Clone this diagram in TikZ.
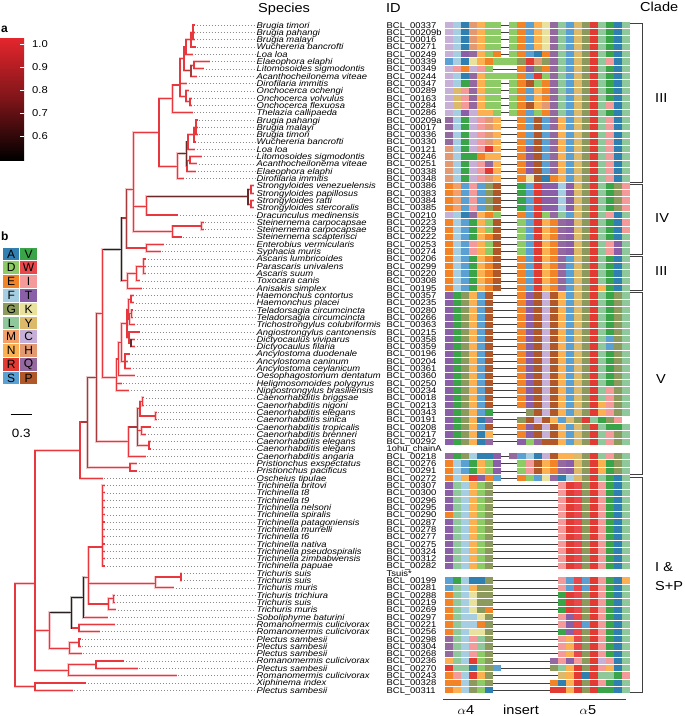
\documentclass[tikz,border=0pt]{standalone}
\usepackage{fontspec}
\setmainfont{Liberation Sans}
\usepackage{graphicx}
\definecolor{alA}{HTML}{2F7FB1}\definecolor{alV}{HTML}{3AA548}
\definecolor{alD}{HTML}{8DCB66}\definecolor{alW}{HTML}{E8474B}
\definecolor{alE}{HTML}{F28327}\definecolor{alI}{HTML}{F59A9A}
\definecolor{alF}{HTML}{A6CEE3}\definecolor{alT}{HTML}{8B5EA8}
\definecolor{alG}{HTML}{8C9A5E}\definecolor{alK}{HTML}{E8E29E}
\definecolor{alL}{HTML}{8FC89A}\definecolor{alY}{HTML}{DDBA6B}
\definecolor{alM}{HTML}{F4A06A}\definecolor{alC}{HTML}{C6B0D8}
\definecolor{alN}{HTML}{FBB052}\definecolor{alH}{HTML}{E39A72}
\definecolor{alR}{HTML}{E13B33}\definecolor{alQ}{HTML}{94699F}
\definecolor{alS}{HTML}{5BA0D3}\definecolor{alP}{HTML}{B0582A}
\definecolor{tr}{HTML}{E8383D}\definecolor{trb}{HTML}{A83A3C}
\definecolor{trd}{HTML}{6B2A2A}\definecolor{trk}{HTML}{2A1E1E}
\definecolor{cbred}{HTML}{E3262D}
\newcommand\sx[1]{\scalebox{1.12}[1]{#1}}
\newcommand\RY[1]{(25+(#1-1)*7.31)}
\newcount\alk
\newcommand\alrow[2]{\def\alr{#1}\alk=0 \alparse#2\relax}
\def\alparse#1{\ifx\relax#1\let\alnext\relax\else\alcell{#1}\advance\alk by 1 \let\alnext\alparse\fi\alnext}
\newcommand\alcell[1]{%
  \pgfmathsetmacro\alx{445+\the\alk*8.05}%
  \pgfmathsetmacro\aly{25+(\alr-1)*7.31}%
  \if#1-\draw[gapline] (\alx,\aly) -- ++(8.05,0);\else
  \if#1.\else\fill[al#1] (\alx,\aly-3.15) rectangle ++(8.05,6.3);\fi\fi}
\def\leafdata{1/193/195/Brugia timori/BCL\_00337,
2/193/195/Brugia pahangi/BCL\_00209b,
3/193/195/Brugia malayi/BCL\_00016,
4/191/195.5/Wuchereria bancrofti/BCL\_00271,
5/186/193/Loa loa/BCL\_00249,
6/194/210/Elaeophora elaphi/BCL\_00339,
7/194/204/Litomosoides sigmodontis/BCL\_00349,
8/191/197/Acanthocheilonema viteae/BCL\_00244,
9/180/187/Dirofilaria immitis/BCL\_00347,
10/186/188.5/Onchocerca ochengi/BCL\_00289,
11/190/192/Onchocerca volvulus/BCL\_00163,
12/190/192/Onchocerca flexuosa/BCL\_00284,
13/172.3/192.7/Thelazia callipaeda/BCL\_00286,
14/196/197.5/Brugia pahangi/BCL\_00209a,
15/196/197.5/Brugia malayi/BCL\_00017,
16/196/197.5/Brugia timori/BCL\_00336,
17/194/196/Wuchereria bancrofti/BCL\_00330,
18/188/195/Loa loa/BCL\_00121,
19/190/202/Litomosoides sigmodontis/BCL\_00246,
20/190/197/Acanthocheilonema viteae/BCL\_00251,
21/187/196/Elaeophora elaphi/BCL\_00338,
22/177.7/184.3/Dirofilaria immitis/BCL\_00348,
23/251/253.5/Strongyloides venezuelensis/BCL\_00386,
24/251/253.5/Strongyloides papillosus/BCL\_00383,
25/251/253.5/Strongyloides ratti/BCL\_00384,
26/251/253.5/Strongyloides stercoralis/BCL\_00385,
27/146.7/178.3/Dracunculus medinensis/BCL\_00210,
28/201.7/203.5/Steinernema carpocapsae/BCL\_00223,
29/201.7/203.5/Steinernema carpocapsae/BCL\_00229,
30/172.3/181.7/Steinernema scapterisci/BCL\_00222,
31/146.7/164/Enterobius vermicularis/BCL\_00253,
32/146.7/160.7/Syphacia muris/BCL\_00274,
33/143.3/146/Ascaris lumbricoides/BCL\_00206,
34/143.3/146/Parascaris univalens/BCL\_00299,
35/143.3/146/Ascaris suum/BCL\_00220,
36/136.7/140/Toxocara canis/BCL\_00308,
37/127.3/141.7/Anisakis simplex/BCL\_00195,
38/131/134/Haemonchus contortus/BCL\_00357,
39/131/134/Haemonchus placei/BCL\_00235,
40/131.5/133/Teladorsagia circumcincta/BCL\_00280,
41/131.5/133/Teladorsagia circumcincta/BCL\_00266,
42/129.5/135/Trichostrongylus colubriformis/BCL\_00363,
43/129/140/Angiostrongylus cantonensis/BCL\_00215,
44/131/135/Dictyocaulus viviparus/BCL\_00358,
45/131/135/Dictyocaulus filaria/BCL\_00359,
46/125/130/Ancylostoma duodenale/BCL\_00196,
47/125/128/Ancylostoma caninum/BCL\_00204,
48/125/131/Ancylostoma ceylanicum/BCL\_00361,
49/118.3/135/Oesophagostomum dentatum/BCL\_00360,
50/116.7/121.7/Heligmosomoides polygyrus/BCL\_00250,
51/116.7/129.3/Nippostrongylus brasiliensis/BCL\_00234,
52/142.3/144/Caenorhabditis briggsae/BCL\_00018,
53/142.3/144/Caenorhabditis nigoni/BCL\_00213,
54/155.7/156.5/Caenorhabditis elegans/BCL\_00343,
55/155.7/156.5/Caenorhabditis sinica/BCL\_00191,
56/141.7/151/Caenorhabditis tropicalis/BCL\_00208,
57/141.7/146/Caenorhabditis brenneri/BCL\_00217,
58/149/151/Caenorhabditis elegans/BCL\_00292,
59/149/151/Caenorhabditis elegans/1ohu\_chainA,
60/128.3/145.7/Caenorhabditis angaria/BCL\_00218,
61/130/137/Pristionchus exspectatus/BCL\_00276,
62/130/137/Pristionchus pacificus/BCL\_00291,
63/80/102.7/Oscheius tipulae/BCL\_00272,
64/102.7/105/Trichinella britovi/BCL\_00307,
65/102.7/105/Trichinella t8/BCL\_00300,
66/102.7/105/Trichinella t9/BCL\_00296,
67/102.7/105/Trichinella nelsoni/BCL\_00295,
68/102.7/105/Trichinella spiralis/BCL\_00290,
69/102.7/105/Trichinella patagoniensis/BCL\_00287,
70/102.7/105/Trichinella murrelli/BCL\_00278,
71/102.7/105/Trichinella t6/BCL\_00277,
72/102.7/105/Trichinella nativa/BCL\_00275,
73/102.7/105/Trichinella pseudospiralis/BCL\_00324,
74/102.7/105/Trichinella zimbabwensis/BCL\_00312,
75/102.7/105/Trichinella papuae/BCL\_00282,
76/181/182/Trichuris suis/Tsuis*,
77/181/182/Trichuris suis/BCL\_00199,
78/155.7/174/Trichuris muris/BCL\_00281,
79/113.3/115/Trichuris trichiura/BCL\_00288,
80/113.3/115/Trichuris suis/BCL\_00219,
81/108.3/116/Trichuris muris/BCL\_00269,
82/83.3/108.3/Soboliphyme baturini/BCL\_00297,
83/79/115/Romanomermis culicivorax/BCL\_00221,
84/79/100/Romanomermis culicivorax/BCL\_00256,
85/79/80.5/Plectus sambesii/BCL\_00298,
86/79/80.5/Plectus sambesii/BCL\_00304,
87/69.3/81.7/Plectus sambesii/BCL\_00268,
88/96/124.3/Romanomermis culicivorax/BCL\_00236,
89/96/137.7/Plectus sambesii/BCL\_00270,
90/68.3/176.7/Romanomermis culicivorax/BCL\_00243,
91/35/86/Xiphinema index/BCL\_00328,
92/35/72.7/Plectus sambesii/BCL\_00311}
\def\innerdata{193/1/3/191/2/tr, 191/2/4/186/3/tr, 186/3/5/184/4/tr,
194/6/7/191/6.5/tr, 191/6.5/8/184/7.25/trb, 184/4/7.25/180/5.6/tr,
190/11/12/186/11.5/tr, 186/10/11.5/180/10.75/tr, 180/5.6/10.75/172.3/9.2/tr,
172.3/9.2/13/159/11.1/tr, 196/14/16/194/15/tr, 194/15/17/188/16/tr,
188/16/18/186.5/17/tr, 190/19/20/187/19.5/tr, 187/19.5/21/186.5/20.25/tr,
186.5/17/20.25/177.7/18.6/trd, 177.7/18.6/22/159/20.4/tr, 159/11.1/20.4/133.3/15.7/tr,
251/23/24/248/23.5/tr, 251/25/26/248/25.5/tr, 248/23.5/25.5/146.7/24.5/trd,
146.7/24.5/27/133.3/25.8/tr, 201.7/28/29/172.3/28.5/tr, 172.3/28.5/30/133.3/29.3/tr,
133.3/15.7/29.3/126.7/23.5/tr, 146.7/31/32/126.7/31.5/tr, 126.7/23.5/31.5/121.7/27.4/trb,
143.3/33/35/136.7/34/tr, 136.7/34/36/127.3/35/tr, 127.3/35/37/121.7/36/tr,
121.7/27.4/36/102.3/31.7/trk, 131/38/39/128.3/38.5/tr, 131.5/40/41/129.5/40.5/tr,
129.5/40.5/42/128.3/41.25/tr, 128.3/38.5/41.25/127/39.9/tr, 131/44/45/129/44.5/trd,
129/43/44.5/127/43.75/tr, 127/39.9/43.75/121.7/41.8/tr, 125/46/48/121.7/47/tr,
121.7/41.8/47/118.3/44.4/tr, 118.3/44.4/49/116.7/46.7/tr, 116.7/46.7/51/102.3/49.25/tr,
102.3/31.7/49.25/96.7/40.5/tr, 142.3/52/53/140/52.5/tr, 155.7/54/55/140/54.5/tr,
140/52.5/54.5/137.7/53.5/tr, 141.7/56/57/137.7/56.5/tr, 149/58/59/137.7/58.5/tr,
137.7/53.5/58.5/128.3/56/trb, 128.3/56/60/96.7/58/tr, 96.7/40.5/58/87.3/49.25/trb,
130/61/62/87.3/61.5/tr, 87.3/49.25/61.5/80/55.3/trb, 80/55.3/63/35/59.2/tr,
102.7/64/75/88.3/72.4/tr, 181/76/77/155.7/76.5/tr, 155.7/76.5/78/88.3/77.4/tr,
113.3/79/80/108.3/79.5/tr, 108.3/79.5/81/88.3/80.2/tr, 88.3/72.4/80.2/83.3/76.6/tr,
83.3/76.6/82/71.7/79.3/trk, 79/83/84/71.7/83.5/tr, 71.7/79.3/83.5/49.3/81.4/trk,
79/85/86/69.3/85.5/tr, 69.3/85.5/87/49.3/86.25/tr, 49.3/81.4/86.25/35/83.8/tr,
96/88/89/68.3/88.5/tr, 68.3/88.5/90/35/89.25/tr, 35/59.2/89.25/15/77.4/tr,
35/91/92/15/91.5/tr, 15/77.4/91.5/15/77.4/tr}
\begin{document}
\begin{tikzpicture}[x=1pt,y=-1pt,
  sp/.style={anchor=base west, inner sep=0, font=\fontsize{8.4}{8.4}\selectfont\itshape},
  idt/.style={anchor=base west, inner sep=0, font=\fontsize{8.4}{8.4}\selectfont},
  head/.style={anchor=base west, inner sep=0, font=\fontsize{13}{13}\selectfont},
  clab/.style={anchor=base west, inner sep=0, font=\fontsize{13}{13}\selectfont},
  leader/.style={draw=black!45, line width=0.55, dash pattern=on 0.7pt off 2.3pt},
  gapline/.style={draw=black!75, line width=0.7},
  brk/.style={draw=black!75, line width=1},
  lgl/.style={inner sep=0, font=\fontsize{12}{12}\selectfont}]
\useasboundingbox (0,0) rectangle (685,716);
% headers
\node[head] (hsp) at (258,12) {\sx{Species}};
\node[head] (hid) at (386,12) {\sx{ID}};
\node[head] (hcl) at (640,11) {\sx{Clade}};
% tree halos
\foreach \x/\a/\b/\p/\c/\col in \innerdata {
  \draw[line width=2.8, draw=\col!28, line cap=rect] (\x,{\RY{\a}}) -- (\x,{\RY{\b}}) (\p,{\RY{\c}}) -- (\x,{\RY{\c}});}
\foreach \rr/\pa/\ti/\snm/\idn in \leafdata {
  \draw[line width=2.8, draw=tr!28] (\pa,{\RY{\rr}}) -- (\ti,{\RY{\rr}});}
% leaves, labels
\foreach \rr/\pa/\ti/\snm/\idn in \leafdata {
  \draw[line width=1.2, draw=tr] (\pa,{\RY{\rr}}) -- (\ti,{\RY{\rr}});
  \draw[leader] ({\ti+1.5},{\RY{\rr}}) -- (255,{\RY{\rr}});
  \node[sp] (sp\rr) at (256.5,{\RY{\rr}+3}) {\sx{\snm}};
  \node[idt] (id\rr) at (386.5,{\RY{\rr}+3}) {\sx{\idn}};}
\foreach \x/\a/\b/\p/\c/\col in \innerdata {
  \draw[line width=1.2, draw=\col, line cap=rect] (\x,{\RY{\a}}) -- (\x,{\RY{\b}}) (\p,{\RY{\c}}) -- (\x,{\RY{\c}});}
% alignment
\alrow{1}{CFAHNDD-DESNKQLSYGRLVAL}
\alrow{2}{CFAHNDD-DESNKQLSYGRLVAL}
\alrow{3}{CFAHNDD-DESNKQLSYGRLVAL}
\alrow{4}{CFAHNDD-DESNKQLSYGRLVAL}
\alrow{5}{CFTQNDE-DESAEQLSYGRLVAL}
\alrow{6}{SFAKNEDDDGRHGQLSYGRLIAL}
\alrow{7}{CIECID---ETGEQLSYGRLVAL}
\alrow{8}{CFAQNDDDDESRDQLSYGRLVAL}
\alrow{9}{CFVQNDD-DEPDEQLSYGRLVAL}
\alrow{10}{CYIQNDD-DESNEQLSYGRLVAL}
\alrow{11}{CYIQNDD-DESNEQLSYGRLVAL}
\alrow{12}{CYIQNDD-DEPNHQLSYGRLIAL}
\alrow{13}{CFTCNND-DESDEQLSYGRLVAL}
\alrow{14}{QFVCIHN--ESPSQNSYGRLIAL}
\alrow{15}{QFVCIHN--ESPSQNSYGRLIAL}
\alrow{16}{QFVCIHN--ESPSQNSYGRLIAL}
\alrow{17}{QFVCIHN--ESPSQNSYGRLIAL}
\alrow{18}{HFVCIRN--ETPSQNSYGRLIAL}
\alrow{19}{HFVVENN--ETPSQNSYGRLIAL}
\alrow{20}{HFVCIQN--ETPSQNSYGRLIAL}
\alrow{21}{HFVCIRN--ETPSQNSYGRLIAL}
\alrow{22}{HFVCIHN--EKPAENSYGRLIAL}
\alrow{23}{EMSISGP--VSRTTFTYGRLVGI}
\alrow{24}{EMSISGP--VSRTTFTYGRLVGI}
\alrow{25}{EMSISGP--VSRTTFTYGRLVGI}
\alrow{26}{EMSISGP--VSRTTFTYGRLVGI}
\alrow{27}{CFAQNED--ESRDQLSYGRLIAL}
\alrow{28}{EFSVNDP--DSRNEQTYGRLVAI}
\alrow{29}{EFSVNDP--DSRNEQTYGRLVAI}
\alrow{30}{EFSVNEP--DSRNEQTYGRLVAL}
\alrow{31}{EFSINDP--DSRNEQTYGRLITL}
\alrow{32}{EFSINDP--DSRNEQTYGRLITL}
\alrow{33}{EFSVNEP--ESRNEQSYGRLVAL}
\alrow{34}{EFSVNEP--ESRNEQSYGRLVAL}
\alrow{35}{EFSVNEP--ESRNEQSYGRLVAL}
\alrow{36}{EFSVNEP--ESRNEQSYGRLVAL}
\alrow{37}{EFSVNEP--ESRNEQSYGRNVAL}
\alrow{38}{TVGNSP---ETPCPNSYGRLVGL}
\alrow{39}{TVGNSP---ETPCPNSYGRLVGL}
\alrow{40}{TVGNSP---ETPCPNSYGRLVGL}
\alrow{41}{TVGNSP---ETPCPNSYGRLVGL}
\alrow{42}{TVGNSP---ETPCPNSYGRLVGL}
\alrow{43}{TVGNSP---ETPCPNSYGRLVGL}
\alrow{44}{TVGNSP---ETPCPNSYGRLSGL}
\alrow{45}{TVGNSP---ETPCPNSYGRLSGL}
\alrow{46}{TVGNSP---ETPCPNSYGRLVGL}
\alrow{47}{TVGNSP---ETPCPNSYGRLVGL}
\alrow{48}{TVGNSP---ETPCPNSYGRLVGL}
\alrow{49}{TVGNSP---ETPCPNSYGRLVGL}
\alrow{50}{TVGNSP---ETPCPNSYGRLVGL}
\alrow{51}{TVGNSP---ETPCPNSYGRLIGL}
\alrow{52}{TVGNSP---ETPCPNSYGRLIGL}
\alrow{53}{TVGNSP---ETPCPNSYGRNIGL}
\alrow{54}{TVGNSV----GPCPNSYGRNIGL}
\alrow{55}{TVGNAQ---GPCPNSYGRLVGI}
\alrow{56}{TVGNSP---ETPCPNSYGRLVVL}
\alrow{57}{TVGNAN---ETPCPNSYGRLIGL}
\alrow{58}{TVGNAQ---TDQPPNSYGRLIGL}
\alrow{60}{QVGFAAT-QSFACPNNYGRLIGL}
\alrow{61}{EFSVNDT--DIPNEQTYGRNVGL}
\alrow{62}{EFSVNDT--DIPNEQTYGRNVGL}
\alrow{63}{EFNRTES--EDSKQAFYGRLVAL}
\alrow{64}{TLFNDG--------IRWGRIVAL}
\alrow{65}{TLFNDG--------IRWGRIVAL}
\alrow{66}{TLFNDG--------IRWGRIVAL}
\alrow{67}{TLFNDG--------IRWGRIVAL}
\alrow{68}{ELFNDG--------IRWGRIVAL}
\alrow{69}{TLFNDG--------IRWGRIVAL}
\alrow{70}{TLFNDG--------IRWGRIVAL}
\alrow{71}{TLFNDG--------IRWGRIVAL}
\alrow{72}{TLFNDG--------IRWGRIVAL}
\alrow{73}{TLFNDG--------IRWGRIVAL}
\alrow{74}{TLFNDG--------IRWGRIVAL}
\alrow{75}{TLFNDG--------IRWGRIVAL}
\alrow{77}{SVFAAG--------ISWSRIVAN}
\alrow{78}{SLFNGG--------ISWSRIVAL}
\alrow{79}{ELFKGG--------VRWGRIVAL}
\alrow{80}{ELFKGG--------VRWGRIVAL}
\alrow{81}{ELFKGE--------VRWGRIVAL}
\alrow{82}{ELFFKG--------ITWGRIVAL}
\alrow{83}{ELFFEG--------ITWSRIVAL}
\alrow{84}{ELFKKG--------VTWGRIVAL}
\alrow{85}{QLFILG--------INWGRIVAL}
\alrow{86}{QLFILG--------INWGRIVAL}
\alrow{87}{QLFIDG--------INWGRIVAL}
\alrow{88}{NLFRDG-------QITIGRCIAL}
\alrow{89}{RLLADGS------GLNRGRINAL}
\alrow{90}{EIFRNG--------YNRARLLVI}
\alrow{91}{EEFGDG-------EANRGRIVAL}
\alrow{92}{ENFGDA-------RRNRGRVVAL}
% clade brackets
\draw[brk] (630,23) -- (642,23) -- (642,182) -- (630,182);
\draw[brk] (630,184) -- (642,184) -- (642,254) -- (630,254);
\draw[brk] (630,256) -- (642,256) -- (642,290.5) -- (630,290.5);
\draw[brk] (630,292.5) -- (642,292.5) -- (642,474) -- (630,474);
\draw[brk] (630,477) -- (642,477) -- (642,692) -- (630,692);
\node[clab] (c1) at (655,102) {\sx{III}};
\node[clab] (c2) at (655,222) {\sx{IV}};
\node[clab] (c3) at (655,275) {\sx{III}};
\node[clab] (c4) at (656,383) {\sx{V}};
\node[clab] (c5) at (655,571) {\sx{I \&}};
\node[clab] (c6) at (655,590) {\sx{S+P}};
% bottom labels
\draw[brk] (443,699) -- (490,699);
\draw[brk] (550,699) -- (626,699);
\node[anchor=base, inner sep=0, font=\fontsize{13}{13}\selectfont] (la4) at (466,714) {\sx{$\alpha$4}};
\node[anchor=base, inner sep=0, font=\fontsize{13}{13}\selectfont] (lins) at (521,714) {\sx{insert}};
\node[anchor=base, inner sep=0, font=\fontsize{13}{13}\selectfont] (la5) at (588,714) {\sx{$\alpha$5}};
% legend a
\node[anchor=base west, inner sep=0, font=\fontsize{12}{12}\selectfont\bfseries] (la) at (1,32) {a};
\shade[top color=cbred, bottom color=black, middle color=cbred!55!black] (0,38) rectangle (24,160);
\foreach \v/\yy in {1.0/44, 0.9/67, 0.8/90, 0.7/113, 0.6/136} {
  \draw[white, line width=0.6] (20,\yy) -- (24,\yy);
  \node[anchor=west, inner sep=0, font=\fontsize{10}{10}\selectfont] (cb\yy) at (32,\yy) {\sx{\v}};}
% legend b
\node[anchor=base west, inner sep=0, font=\fontsize{12}{12}\selectfont\bfseries] (lb) at (1,240) {b};
\foreach \la/\lb/\i in {A/V/0, D/W/1, E/I/2, F/T/3, G/K/4, L/Y/5, M/C/6, N/H/7, R/Q/8, S/P/9} {
  \fill[al\la] (3,{247+\i*13.8+0.6}) rectangle (19.3,{247+(\i+1)*13.8-0.6});
  \fill[al\lb] (20.3,{247+\i*13.8+0.6}) rectangle (37,{247+(\i+1)*13.8-0.6});
  \node[lgl] (ka\i) at (11.2,{247+(\i+0.5)*13.8}) {\la};
  \node[lgl] (kb\i) at (28.6,{247+(\i+0.5)*13.8}) {\lb};}
% scale bar
\draw[black, line width=1] (10.7,414) -- (31.7,414);
\node[anchor=base, inner sep=0, font=\fontsize{12}{12}\selectfont] (sb) at (21.2,437) {\sx{0.3}};
\end{tikzpicture}
\end{document}
